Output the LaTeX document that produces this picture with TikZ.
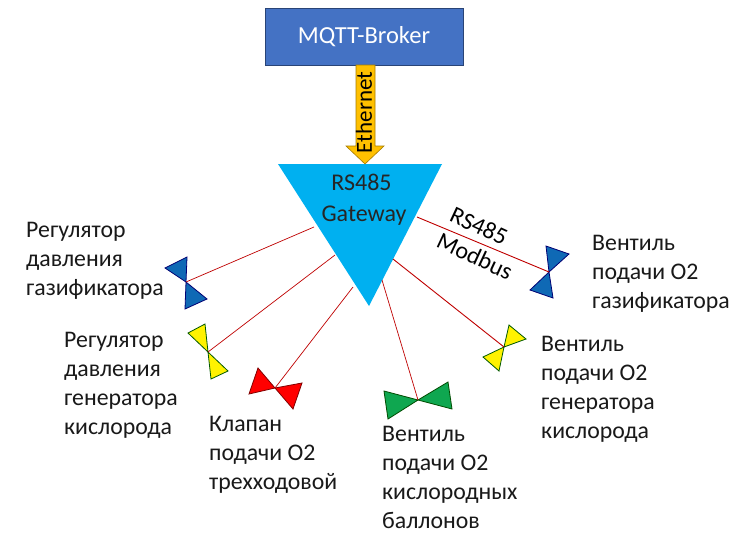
\documentclass[tikz,border=0pt]{standalone}
\usepackage{fontspec}
\setmainfont{Carlito}
\begin{document}
\begin{tikzpicture}[x=1pt,y=-1pt,
  lbl/.style={font=\fontsize{23.8}{29}\selectfont,align=left,anchor=north west,inner sep=0pt,text=black!90},
  link/.style={draw=red!75!black,line width=0.7pt},
  vblue/.style={draw=blue!45!black,fill=vbluec,line width=0.8pt},
  vyellow/.style={draw=black!65!green,fill=yellow,line width=0.8pt},
  vred/.style={draw=black!50!red,fill=red,line width=0.8pt},
  vgreen/.style={draw=black!70!green,fill=vgreenc,line width=0.8pt}]
\definecolor{brokerc}{HTML}{4472C4}
\definecolor{vbluec}{HTML}{0F69B5}
\definecolor{vgreenc}{HTML}{0FA750}
\definecolor{gatec}{HTML}{00B0F0}
\definecolor{arrowc}{HTML}{FFC000}
\useasboundingbox (0,0) rectangle (752,541);
\fill[white] (0,0) rectangle (752,541);
% broker
\node[draw=brokerc!60!black,fill=brokerc,line width=0.8pt,minimum width=198pt,minimum height=57pt,inner sep=0pt,text=white,font=\fontsize{24.5}{25}\selectfont] (broker) at (364,36.5) {MQTT-Broker};
% gateway
\fill[gatec] (278,164) -- (442,164) -- (369,306) -- cycle;
\node[font=\fontsize{24}{31}\selectfont,align=center,inner sep=0pt,text=black!85] (gate) at (364,200) {RS485\hspace*{5pt}\\Gateway};
% ethernet arrow
\draw[draw=arrowc!65!black,fill=arrowc,line width=0.6pt] (356,65) -- (375,65) -- (375,146) -- (384,146) -- (365,164) -- (346,146) -- (356,146) -- cycle;
\node[rotate=90,inner sep=0pt,font=\fontsize{23}{28}\selectfont] (eth) at (364,112.5) {Ethernet};
% connector ends on gateway
\coordinate (g1) at (314,227);
\coordinate (g2) at (335,255);
\coordinate (g3) at (353,287);
\coordinate (g4) at (382,280);
\coordinate (g5) at (393,259);
\coordinate (g6) at (417,217);
% valve centres
\coordinate (v1) at (186,282);
\coordinate (v2) at (208,352);
\coordinate (v3) at (275,388);
\coordinate (v4) at (418,400);
\coordinate (v5) at (504,347);
\coordinate (v6) at (549,272);
% valves
\draw[vblue] (v1) -- (165,268) -- (187,257) -- cycle;
\draw[vblue] (v1) -- (185,309) -- (207,299) -- cycle;
\draw[vyellow] (v2) -- (188,333) -- (205,324) -- cycle;
\draw[vyellow] (v2) -- (211,379) -- (228,371) -- cycle;
\draw[vred] (v3) -- (258,368) -- (249,394) -- cycle;
\draw[vred] (v3) -- (302,383) -- (293,409) -- cycle;
\draw[vgreen] (v4) -- (384,391) -- (388,419) -- cycle;
\draw[vgreen] (v4) -- (448,382) -- (452,409) -- cycle;
\draw[vyellow] (v5) -- (509,325) -- (526,339) -- cycle;
\draw[vyellow] (v5) -- (483,357) -- (499,371) -- cycle;
\draw[vblue] (v6) -- (546,246) -- (569,254) -- cycle;
\draw[vblue] (v6) -- (530,290) -- (553,298) -- cycle;
% connectors
\draw[link] (g1) -- (v1);
\draw[link] (g2) -- (v2);
\draw[link] (g3) -- (v3);
\draw[link] (g4) -- (v4);
\draw[link,line width=0.9pt] (g5) -- (v5);
\draw[link,line width=0.9pt] (g6) -- (v6);
% labels
\node[rotate=-25,inner sep=0pt,font=\fontsize{24}{28}\selectfont] (rs) at (479,226) {RS485};
\node[rotate=-25,inner sep=0pt,font=\fontsize{24}{28}\selectfont] (mb) at (475,256) {Modbus};
\node[lbl] (t1) at (26,222) {Регулятор\\давления\\газификатора};
\node[lbl] (t2) at (64,332) {Регулятор\\давления\\генератора\\кислорода};
\node[lbl] (t3) at (209,416) {Клапан\\подачи О2\\трехходовой};
\node[lbl] (t4) at (382,426) {Вентиль\\подачи О2\\кислородных\\баллонов};
\node[lbl] (t5) at (541,336) {Вентиль\\подачи О2\\генератора\\кислорода};
\node[lbl] (t6) at (592,235) {Вентиль\\подачи О2\\газификатора};
\end{tikzpicture}
\end{document}
